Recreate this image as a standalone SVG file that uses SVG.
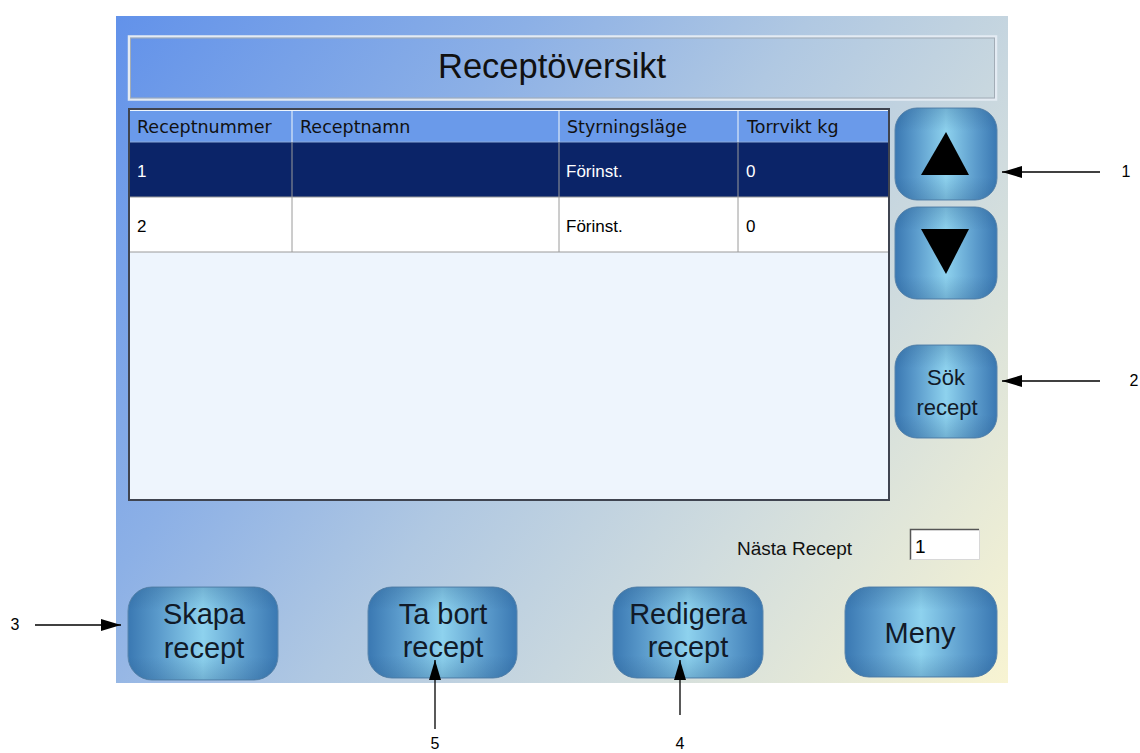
<svg xmlns="http://www.w3.org/2000/svg" width="1140" height="753" viewBox="0 0 1140 753">
  <defs>
    <linearGradient id="panelBg" gradientUnits="userSpaceOnUse" x1="116" y1="16" x2="1008" y2="683">
      <stop offset="0" stop-color="#6292ea"/>
      <stop offset="0.3" stop-color="#8cb0e6"/>
      <stop offset="0.5" stop-color="#b0c8e2"/>
      <stop offset="0.72" stop-color="#d0dcde"/>
      <stop offset="1" stop-color="#f8f4d2"/>
    </linearGradient>
    <linearGradient id="btnFill" x1="0" y1="0" x2="1" y2="0">
      <stop offset="0" stop-color="#3a78b2"/>
      <stop offset="0.2" stop-color="#5a9acb"/>
      <stop offset="0.5" stop-color="#8ed2ee"/>
      <stop offset="0.8" stop-color="#5a9acb"/>
      <stop offset="1" stop-color="#3a78b2"/>
    </linearGradient>
    <linearGradient id="btnShade" x1="0" y1="0" x2="0" y2="1">
      <stop offset="0" stop-color="#1e4f80" stop-opacity="0.25"/>
      <stop offset="0.25" stop-color="#1e4f80" stop-opacity="0"/>
      <stop offset="0.75" stop-color="#1e4f80" stop-opacity="0"/>
      <stop offset="1" stop-color="#1e4f80" stop-opacity="0.25"/>
    </linearGradient>
    <marker id="arrowHead" viewBox="0 0 20 12" refX="20" refY="6" markerWidth="20" markerHeight="12" markerUnits="userSpaceOnUse" orient="auto">
      <path d="M0,0 L20,6 L0,12 Z" fill="#000"/>
    </marker>
    <style>
      .btn { fill: url(#btnFill); stroke: #5a86ad; stroke-width: 1; }
      .shade { fill: url(#btnShade); }
      .btnText { font-family: "Liberation Sans", Arial, sans-serif; fill: #111a28; text-anchor: middle; }
      .hdr { font-family: "DejaVu Sans", "Liberation Sans", sans-serif; font-size: 17.5px; fill: #111; }
      .cell { font-family: "Liberation Sans", Arial, sans-serif; font-size: 17px; }
      .callout { font-family: "Liberation Sans", Arial, sans-serif; font-size: 16px; fill: #000; }
      .lead { stroke: #000; stroke-width: 1.3; fill: none; }
      .grid { stroke: #9a9a9a; stroke-width: 1; }
    </style>
  </defs>

  <rect x="0" y="0" width="1140" height="753" fill="#ffffff"/>

  <!-- HMI panel background -->
  <g id="panel">
    <rect x="116" y="16" width="892" height="667" fill="url(#panelBg)"/>
  </g>

  <!-- Title bar -->
  <g id="title">
    <rect x="129" y="36.5" width="867" height="63" fill="none" stroke="#e4ebf3" stroke-width="2.5"/>
    <rect x="130.5" y="38" width="864" height="60" fill="none" stroke="#a2acb6" stroke-width="1"/>
    <text x="438" y="78" font-family="Liberation Sans, Arial, sans-serif" font-size="34.5" fill="#111">Receptöversikt</text>
  </g>

  <!-- Recipe table -->
  <g id="recipeTable">
    <rect x="129" y="109" width="760" height="391" fill="#eef5fd" stroke="#3f4450" stroke-width="2"/>
    <rect x="130" y="111" width="758" height="31" fill="#6a9aea"/>
    <rect x="130" y="142" width="758" height="55" fill="#0b2468"/>
    <rect x="130" y="197" width="758" height="55" fill="#ffffff"/>
    <line x1="130" y1="142" x2="888" y2="142" stroke="#8aa8d8" stroke-width="1"/>
    <line x1="130" y1="197" x2="888" y2="197" class="grid"/>
    <line x1="130" y1="252" x2="888" y2="252" class="grid"/>
    <line x1="292" y1="111" x2="292" y2="142" stroke="#c6d8f4" stroke-width="1.5"/>
    <line x1="559" y1="111" x2="559" y2="142" stroke="#c6d8f4" stroke-width="1.5"/>
    <line x1="738" y1="111" x2="738" y2="142" stroke="#c6d8f4" stroke-width="1.5"/>
    <line x1="292" y1="142" x2="292" y2="252" class="grid"/>
    <line x1="559" y1="142" x2="559" y2="252" class="grid"/>
    <line x1="738" y1="142" x2="738" y2="252" class="grid"/>
    <text x="137" y="133" class="hdr">Receptnummer</text>
    <text x="300" y="133" class="hdr">Receptnamn</text>
    <text x="567" y="133" class="hdr">Styrningsläge</text>
    <text x="747" y="133" class="hdr">Torrvikt kg</text>
    <text x="137" y="177" class="cell" fill="#ffffff">1</text>
    <text x="566" y="177" class="cell" fill="#ffffff">Förinst.</text>
    <text x="746" y="177" class="cell" fill="#ffffff">0</text>
    <text x="137" y="232" class="cell" fill="#000000">2</text>
    <text x="566" y="232" class="cell" fill="#000000">Förinst.</text>
    <text x="746" y="232" class="cell" fill="#000000">0</text>
  </g>

  <!-- Scroll up -->
  <g id="btnUp">
    <rect x="895" y="108" width="102" height="92" rx="22" class="btn"/>
    <rect x="895" y="108" width="102" height="92" rx="22" class="shade"/>
    <polygon points="946,132 921,175 969,175" fill="#000"/>
  </g>

  <!-- Scroll down -->
  <g id="btnDown">
    <rect x="895" y="207" width="102" height="92" rx="22" class="btn"/>
    <rect x="895" y="207" width="102" height="92" rx="22" class="shade"/>
    <polygon points="921,229 969,229 946,274" fill="#000"/>
  </g>

  <!-- Search -->
  <g id="btnSearch">
    <rect x="895" y="345" width="102" height="93" rx="22" class="btn"/>
    <rect x="895" y="345" width="102" height="93" rx="22" class="shade"/>
    <text x="946" y="385" class="btnText" font-size="22">Sök</text>
    <text x="947" y="415" class="btnText" font-size="22">recept</text>
  </g>

  <!-- Next recipe field -->
  <g id="nextRecipe">
    <text x="737" y="555" font-family="Liberation Sans, Arial, sans-serif" font-size="19" fill="#111">Nästa Recept</text>
    <rect x="910" y="529" width="69" height="31" fill="#ffffff"/>
    <path d="M910.5,560 V529.5 H979" fill="none" stroke="#555" stroke-width="1.5"/>
    <path d="M910.5,559.5 H979.5 V529.5" fill="none" stroke="#d8d8d8" stroke-width="1"/>
    <text x="915" y="553" font-family="Liberation Sans, Arial, sans-serif" font-size="19" fill="#000">1</text>
  </g>

  <!-- Create -->
  <g id="btnCreate">
    <rect x="128" y="587" width="150" height="93" rx="24" class="btn"/>
    <rect x="128" y="587" width="150" height="93" rx="24" class="shade"/>
    <text x="204" y="624" class="btnText" font-size="29">Skapa</text>
    <text x="204" y="658" class="btnText" font-size="29">recept</text>
  </g>

  <!-- Delete -->
  <g id="btnDelete">
    <rect x="368" y="587" width="149" height="91" rx="24" class="btn"/>
    <rect x="368" y="587" width="149" height="91" rx="24" class="shade"/>
    <text x="443" y="624" class="btnText" font-size="29">Ta bort</text>
    <text x="443" y="657" class="btnText" font-size="29">recept</text>
  </g>

  <!-- Edit -->
  <g id="btnEdit">
    <rect x="613" y="587" width="150" height="91" rx="24" class="btn"/>
    <rect x="613" y="587" width="150" height="91" rx="24" class="shade"/>
    <text x="688" y="624" class="btnText" font-size="29">Redigera</text>
    <text x="688" y="657" class="btnText" font-size="29">recept</text>
  </g>

  <!-- Menu -->
  <g id="btnMenu">
    <rect x="845" y="587" width="152" height="90" rx="24" class="btn"/>
    <rect x="845" y="587" width="152" height="90" rx="24" class="shade"/>
    <text x="920" y="643" class="btnText" font-size="29">Meny</text>
  </g>

  <!-- Callout leaders -->
  <g id="connectors">
    <line x1="1100" y1="172" x2="1002" y2="172" class="lead" marker-end="url(#arrowHead)"/>
    <line x1="1100" y1="381" x2="1002" y2="381" class="lead" marker-end="url(#arrowHead)"/>
    <line x1="35" y1="625" x2="121" y2="625" class="lead" marker-end="url(#arrowHead)"/>
    <line x1="435" y1="729" x2="435" y2="660" class="lead" marker-end="url(#arrowHead)"/>
    <line x1="680" y1="715" x2="680" y2="660" class="lead" marker-end="url(#arrowHead)"/>
  </g>

  <!-- Callout numbers -->
  <g id="callouts">
    <text x="1126" y="177" class="callout" text-anchor="middle">1</text>
    <text x="1134" y="386" class="callout" text-anchor="middle">2</text>
    <text x="15" y="630" class="callout" text-anchor="middle">3</text>
    <text x="680" y="749" class="callout" text-anchor="middle">4</text>
    <text x="435" y="749" class="callout" text-anchor="middle">5</text>
  </g>
</svg>
